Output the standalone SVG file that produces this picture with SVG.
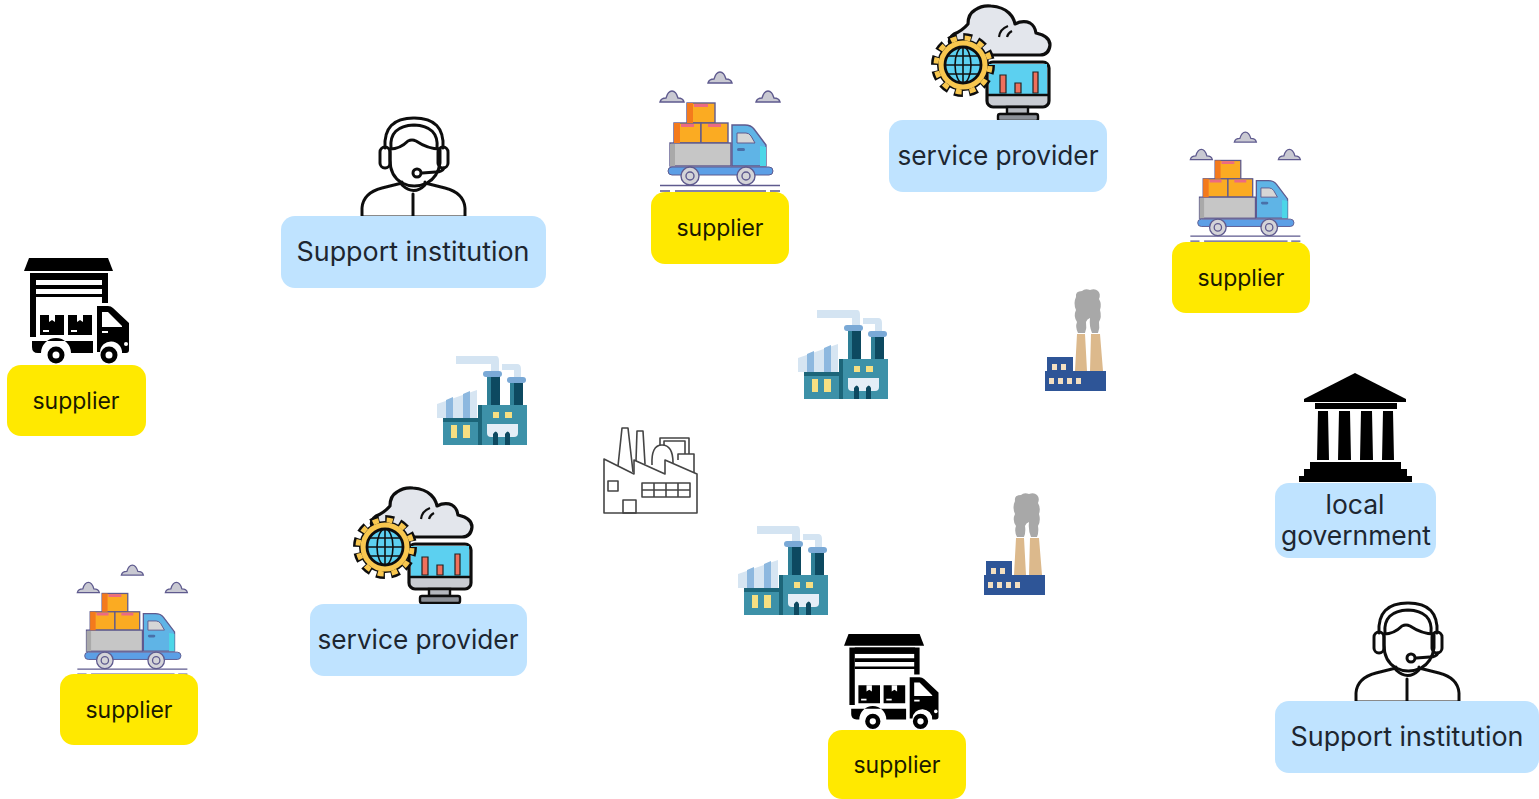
<svg xmlns="http://www.w3.org/2000/svg" xmlns:xlink="http://www.w3.org/1999/xlink" width="1539" height="799" viewBox="0 0 1539 799">
<style>
text{font-family:"Inter","Noto Sans","Liberation Sans",sans-serif;text-anchor:middle;fill:#1d2630}
.s{font-size:23px;fill:#1a1a00}.b{font-size:26.5px}
.y{fill:#ffe900}.l{fill:#bfe3ff}
.i{filter:url(#soft)}
</style>
<defs>
<filter id="soft" x="-5%" y="-5%" width="110%" height="110%"><feGaussianBlur stdDeviation="0.55"/></filter>
<symbol id="cart" overflow="visible">
<g stroke="#5e5a8e" stroke-width="1.4">
<path d="M68 83q1-4 6-4 2-7 6-7t6 7q5 0 6 4z" fill="#c9c9d2"/>
<path d="M20 102q1-4 6-4 2-7 6-7t6 7q5 0 6 4z" fill="#c9c9d2"/>
<path d="M116 102q1-4 6-4 2-7 6-7t6 7q5 0 6 4z" fill="#c9c9d2"/>
<rect x="47" y="103" width="28" height="20" fill="#fbab23"/>
<rect x="34" y="123" width="27" height="20" fill="#fbab23"/>
<rect x="61" y="123" width="27" height="20" fill="#fbab23"/>
<rect x="30" y="143" width="61" height="23" fill="#c6c6c6"/>
<path d="M92 166V125h13q6 0 9 4l12 16v21z" fill="#5eb4e6"/>
</g>
<path d="M47 103h6v20h-6zM34 123h6v20h-6z" fill="#f47a1f"/>
<path d="M30 144h5v22h-5z" fill="#a9a9a9"/>
<path d="M54 104h14v3H54zM41 124h13v3H41zM68 124h13v3H68z" fill="#ec6a82"/>
<path d="M97 133h9q3 0 5 3l4 7H97z" fill="#d6d6d6" stroke="#5e5a8e"/>
<rect x="97" y="148" width="8" height="3" rx="1.5" fill="#4a6fa8"/>
<path d="M120 146l6 1v19h-6z" fill="#4ed6e8"/>
<rect x="28" y="167" width="105" height="8" rx="4" fill="#5b9fe6" stroke="#5e5a8e"/>
<g fill="#d4d4d8" stroke="#5e5a8e" stroke-width="1.4">
<circle cx="50" cy="176" r="9"/><circle cx="50" cy="176" r="4"/>
<circle cx="106" cy="176" r="9"/><circle cx="106" cy="176" r="4"/>
</g>
<path d="M20 185.500H140M20 191H30M35 191H126M130 191H140" stroke="#5e5a8e" stroke-width="1.400" fill="none"/>
</symbol>
<symbol id="svc" overflow="visible">
<path d="M312 48Q306 40 314 34Q322 31 328 24Q328 14 335 10Q342 5 351 6Q363 7 369 13Q374 18 375 24Q383 20 390 23Q395 26 396 33Q410 36 410 45Q409 55 400 55H350z" fill="#e3e6ec" stroke="#111" stroke-width="3.200" stroke-linejoin="round"/>
<path d="M359 37q1-8 9-11M367 37q1-4 5-6" fill="none" stroke="#111" stroke-width="2.200"/>
<rect x="347" y="62" width="62" height="45" rx="6" fill="#c9ccd2" stroke="#111" stroke-width="3.200"/>
<path d="M349 64h58v30h-58z" fill="#5cd0f0"/>
<path d="M360 75h6v18h-6zM375 83h6v10h-6zM393 72h5v21h-5z" fill="#ef6f5c" stroke="#222" stroke-width="1.200"/>
<path d="M348 95h60" stroke="#111" stroke-width="2.400"/>
<path d="M367 107h21v7h-21z" fill="#b4b7bd" stroke="#111" stroke-width="2.400"/>
<rect x="358" y="114" width="40" height="7" rx="2" fill="#8c9097" stroke="#111" stroke-width="2.400"/>
<circle cx="323" cy="65" r="27.500" fill="none" stroke="#111" stroke-width="9" stroke-dasharray="8.500 5.900"/>
<circle cx="323" cy="65" r="26" fill="#111"/>
<circle cx="323" cy="65" r="27" fill="none" stroke="#f8c74f" stroke-width="5" stroke-dasharray="6 8.140" stroke-dashoffset="-1.250"/>
<circle cx="323" cy="65" r="24.500" fill="#f8c74f"/>
<circle cx="323" cy="65" r="18" fill="#5cd0f0" stroke="#111" stroke-width="2.800"/>
<path d="M305 65h36M308 56h30M308 74h30M323 47v36" stroke="#111" stroke-width="1.600" fill="none"/>
<ellipse cx="323" cy="65" rx="8" ry="18" fill="none" stroke="#111" stroke-width="1.600"/>
</symbol>
<symbol id="blk" overflow="visible">
<path d="M29 8h79l5 13H24z" fill="#000"/>
<path d="M30 23h78v30h-6V30H36v57h-6z" fill="#000"/>
<path d="M36 23h67v7H36zM36 35h67v4H36zM36 44h67v3H36z" fill="#000"/>
<path d="M40 65h24v20H40zM68 65h24v20H68z" fill="#000"/>
<path d="M49 65h6v7l-3-2-3 2zM77 65h6v7l-3-2-3 2z" fill="#fff"/>
<path d="M43 80h6v2h-6zM71 80h6v2h-6z" fill="#fff"/>
<path d="M97 56h11q3 0 5 2l16 15v27q0 3-3 3h-4a11 11 0 0 0-22-1h-3z" fill="#000"/>
<path d="M102 62h6l14 14v1H102z" fill="#fff"/>
<path d="M102 81h6v2h-6z" fill="#fff"/>
<path d="M32 91h61v12H71a15 15 0 0 0-30 0h-3q-6 0-6-6z" fill="#000"/>
<circle cx="56" cy="105" r="6" fill="#fff" stroke="#000" stroke-width="5"/>
<circle cx="109" cy="105" r="6" fill="#fff" stroke="#000" stroke-width="5"/>
<circle cx="126" cy="94" r="2" fill="#fff"/>
</symbol>
<symbol id="fac" overflow="visible">
<path d="M26 6h40q3 0 3 5v13h-8V14H26z" fill="#d4e4f2"/>
<path d="M72 14h15q4 0 4 5v12h-7V20H72z" fill="#d4e4f2"/>
<path d="M7 68V54l40-14v28z" fill="#d6e5f2"/>
<path d="M16 50l7-3v21h-7zM33 44l7-3v27h-7z" fill="#8db8df"/>
<path d="M57 26h13v30H57zM80 33h13v23H80z" fill="#0f4a60"/>
<path d="M57 26h4v30h-4zM80 33h4v23h-4z" fill="#2d7f96"/>
<rect x="53" y="21" width="19" height="6" rx="3" fill="#7aa9d6"/>
<rect x="77" y="27" width="19" height="6" rx="3" fill="#7aa9d6"/>
<rect x="48" y="55" width="49" height="40" fill="#3e91a8"/>
<rect x="48" y="55" width="4" height="40" fill="#1f6579"/>
<rect x="13" y="68" width="35" height="27" fill="#3e91a8"/>
<rect x="13" y="68" width="35" height="4" fill="#1f6579"/>
<path d="M21 75h6v13h-6zM33 75h7v13h-7zM63 62h6v6h-6zM75 62h7v6h-7z" fill="#f7df82"/>
<path d="M57 74h31v9q0 4-4 4H61q-4 0-4-4z" fill="#e4eef7"/>
<path d="M63 95V84q3-5 5 0v11zM75 95V84q3-5 5 0v11z" fill="#0f4a60"/>
</symbol>
<symbol id="smk" overflow="visible">
<path d="M48 53Q45 47 47 42Q43 36 46 30Q43 23 46 17Q45 11 52 11Q55 8 60 10Q65 8 68 11Q71 14 69 19Q72 24 70 30Q72 37 69 42Q70 48 68 53H62Q59 46 60 38Q57 39 56 42Q57 48 55 53z" fill="#a8a8a8"/>
<path d="M47 54h8l2 37H45zM61 54h9l3 37H60z" fill="#dcb98c"/>
<path d="M17 77h26v14h33v20H15V91h2z" fill="#2f5597"/>
<path d="M22 84h5v6h-5zM31 84h5v6h-5zM19 98h5v6h-5zM28 98h5v6h-5zM37 98h5v6h-5zM46 98h5v6h-5z" fill="#f3dfc0"/>
</symbol>
<symbol id="per" overflow="visible">
<g fill="none" stroke="#111" stroke-width="3" stroke-linejoin="round" stroke-linecap="round">
<path d="M35 38q-2-30 29-30t29 30"/>
<path d="M41 38q-2-22 23-23 25 1 23 23"/>
<path d="M40 39q10 0 18-8 4-2 8 0 12 8 24 8v14q-2 14-13 20-13 6-25 0-12-7-12-23z"/>
<rect x="30" y="37" width="10" height="21" rx="5"/><rect x="88" y="37" width="10" height="21" rx="5"/>
<path d="M94 58q-2 4-8 4l-14 1"/>
<circle cx="67" cy="63" r="4"/>
<path d="M12 107v-9q1-15 20-20l20-5M115 107v-9q-1-15-20-20l-20-5M52 72v3q12 11 23 0v-3M63 84v23M12 107h103"/>
</g>
</symbol>
<symbol id="out" overflow="visible">
<g fill="none" stroke="#444" stroke-width="1.600" stroke-linejoin="round">
<path d="M174 109l30 15v-14l31 14v-14l32 14v39h-93z"/>
<path d="M188 116l4-38h6l5 44M206 111l1-30h6l2 33M222 115q-1-20 10-20 11 0 11 18"/>
<path d="M230 95v-7h29v16M234 95v-4h21v13M248 110v-6h16v19"/>
<path d="M178 131h10v10h-10zM212 133h48v14h-48zM212 140h48M224 133v14M236 133v14M248 133v14M193 163v-13h13v13z"/>
</g>
</symbol>
<symbol id="gov" overflow="visible">
<path d="M34 29l51-26 51 26v3H34z" fill="#000"/>
<rect x="45" y="33" width="82" height="6" fill="#000"/>
<path d="M48 41h10l1 49H47zM69 41h11l1 49H68zM91 41h11l1 49H90zM113 41h10l1 49h-12z" fill="#000"/>
<path d="M40 92h91v7h6v7h5v6H29v-6h5v-7h6z" fill="#000"/>
</symbol>
</defs>
<rect width="1539" height="799" fill="#fff"/>
<g id="connectors"></g>
<g id="support-1"><use class="i" href="#per" transform="translate(350,110)"/><rect class="l" x="281" y="216" width="265" height="72" rx="14"/><text class="b" x="413" y="261" textLength="233" lengthAdjust="spacingAndGlyphs">Support institution</text></g>
<g id="supplier-1"><use class="i" href="#cart" transform="translate(640,0)"/><rect class="y" x="651" y="192" width="138" height="72" rx="14"/><text class="s" x="720" y="236" textLength="87" lengthAdjust="spacingAndGlyphs">supplier</text></g>
<g id="service-1"><use class="i" href="#svc" transform="translate(640,0)"/><rect class="l" x="889" y="120" width="218" height="72" rx="14"/><text class="b" x="998" y="165" textLength="201" lengthAdjust="spacingAndGlyphs">service provider</text></g>
<g id="supplier-2"><use class="i" href="#cart" transform="translate(1172,66) scale(.917)"/><rect class="y" x="1172" y="242" width="138" height="71" rx="14"/><text class="s" x="1241" y="286" textLength="87" lengthAdjust="spacingAndGlyphs">supplier</text></g>
<g id="supplier-3"><use class="i" href="#blk" transform="translate(0,250)"/><rect class="y" x="7" y="365" width="139" height="71" rx="14"/><text class="s" x="76" y="409" textLength="87" lengthAdjust="spacingAndGlyphs">supplier</text></g>
<g id="factory-1"><use class="i" href="#fac" transform="translate(430,350)"/></g>
<g id="factory-2"><use class="i" href="#fac" transform="translate(791,304)"/></g>
<g id="factory-3"><use class="i" href="#fac" transform="translate(731,520)"/></g>
<g id="factory-outline"><use class="i" href="#out" transform="translate(430,350)"/></g>
<g id="plant-1"><use class="i" href="#smk" transform="translate(1030,280)"/></g>
<g id="plant-2"><use class="i" href="#smk" transform="translate(969,484)"/></g>
<g id="government"><use class="i" href="#gov" transform="translate(1270,370)"/><rect class="l" x="1275" y="483" width="161" height="75" rx="14"/><text class="b" x="1355" y="514">local</text><text class="b" x="1356" y="545" textLength="150" lengthAdjust="spacingAndGlyphs">government</text></g>
<g id="service-2"><use class="i" href="#svc" transform="translate(62,482)"/><rect class="l" x="310" y="604" width="217" height="72" rx="14"/><text class="b" x="418" y="649" textLength="201" lengthAdjust="spacingAndGlyphs">service provider</text></g>
<g id="supplier-4"><use class="i" href="#cart" transform="translate(59,499) scale(.917)"/><rect class="y" x="60" y="674" width="138" height="71" rx="14"/><text class="s" x="129" y="718" textLength="87" lengthAdjust="spacingAndGlyphs">supplier</text></g>
<g id="supplier-5"><use class="i" href="#blk" transform="translate(822.400,626.800) scale(.9)"/><rect class="y" x="828" y="730" width="138" height="69" rx="14"/><text class="s" x="897" y="773" textLength="87" lengthAdjust="spacingAndGlyphs">supplier</text></g>
<g id="support-2"><use class="i" href="#per" transform="translate(1344,595)"/><rect class="l" x="1275" y="701" width="264" height="72" rx="14"/><text class="b" x="1407" y="746" textLength="233" lengthAdjust="spacingAndGlyphs">Support institution</text></g>
</svg>
